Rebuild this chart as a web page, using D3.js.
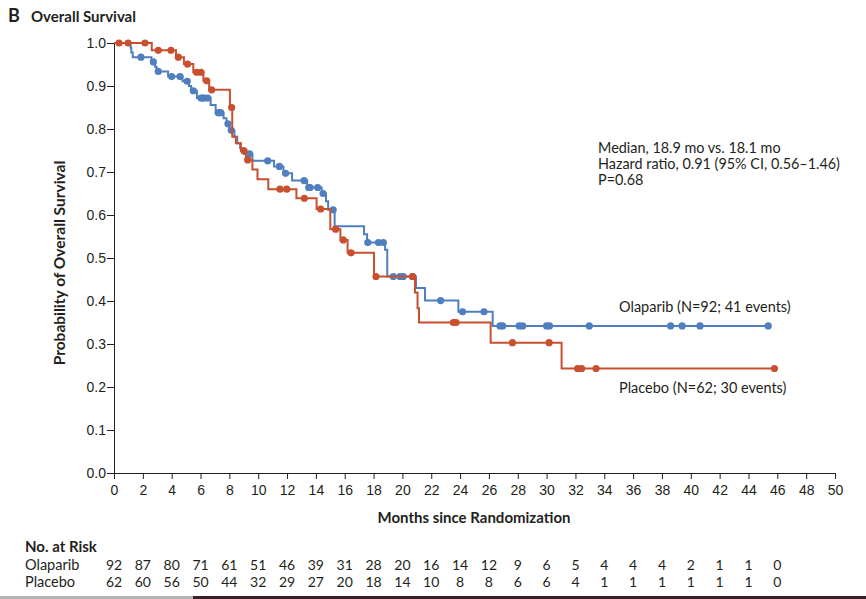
<!DOCTYPE html>
<html>
<head>
<meta charset="utf-8">
<script src="https://cdn.jsdelivr.net/npm/d3@7"></script>
<style>
  body { margin: 0; background: #fff; }
  svg { display: block; font-family: Lato, "Noto Sans", sans-serif; }
  .axis text { font-size: 14px; fill: #231f20; }
  .axis path, .axis line { stroke: #231f20; stroke-width: 1; }
</style>
</head>
<body>
<svg id="chart"></svg>
<script>
// Olaparib: event times (months) and survival after each drop
var olapTimes = [0, 1.15, 1.2, 1.3, 2.6, 2.85, 2.95, 3.75, 4.75, 5.2, 5.35, 5.75, 6.7, 7.05,
  7.6, 7.8, 8.0, 8.35, 8.55, 8.75, 9.0, 9.6, 11.1, 11.75, 12.35, 13.4, 14.4, 14.7, 14.85,
  15.3, 17.34, 17.55, 18.8, 18.95, 20.94, 21.57, 23.88, 26.26];
var olapSurv = [1.0, 0.989, 0.978, 0.967, 0.956, 0.945, 0.934, 0.922, 0.911, 0.9, 0.889, 0.872,
  0.856, 0.838, 0.825, 0.812, 0.797, 0.782, 0.767, 0.755, 0.742, 0.726, 0.713, 0.697, 0.68,
  0.664, 0.65, 0.632, 0.612, 0.574, 0.555, 0.536, 0.519, 0.457, 0.43, 0.401, 0.375, 0.342];
var olapCensor = [1.87, 2.73, 3.07, 4.0, 4.58, 5.08, 5.5, 6.03, 6.15, 6.26, 6.5, 7.23, 7.4, 7.9,
  8.13, 9.4, 10.66, 11.47, 11.9, 13.18, 13.5, 13.6, 14.12, 14.5, 15.2, 17.6, 18.34, 18.68,
  19.37, 19.83, 20.06, 20.7, 22.65, 24.17, 25.66, 26.77, 26.95, 28.1, 28.34, 30.0, 30.2,
  32.96, 38.6, 39.4, 40.64, 45.37];
var olapEnd = 45.37;

// Placebo
var placTimes = [0, 2.62, 4.3, 4.85, 5.5, 6.2, 6.6, 8.04, 8.2, 8.45, 8.8, 9.15, 9.6, 9.95,
  10.7, 12.65, 14.05, 15.0, 15.7, 16.2, 18.03, 20.87, 21.05, 21.15, 26.12, 31.04];
var placSurv = [1.0, 0.983, 0.967, 0.951, 0.932, 0.912, 0.891, 0.85, 0.782, 0.767, 0.749,
  0.728, 0.706, 0.683, 0.66, 0.639, 0.614, 0.567, 0.542, 0.512, 0.457, 0.42, 0.383, 0.35,
  0.303, 0.243];
var placCensor = [0.35, 0.98, 2.15, 3.07, 3.95, 4.46, 5.1, 5.73, 6.03, 6.43, 6.77, 8.16,
  9.02, 9.27, 11.51, 11.98, 13.2, 14.33, 15.37, 15.9, 16.44, 18.17, 20.71, 23.53, 23.72,
  27.63, 30.17, 32.15, 32.43, 33.43, 45.8];
var placEnd = 45.8;

// number at risk table
var riskTimes = [0, 2, 4, 6, 8, 10, 12, 14, 16, 18, 20, 22, 24, 26, 28, 30, 32, 34, 36, 38, 40, 42, 44, 46];
var olapRisk = [92, 87, 80, 71, 61, 51, 46, 39, 31, 28, 20, 16, 14, 12, 9, 6, 5, 4, 4, 4, 2, 1, 1, 0];
var placRisk = [62, 60, 56, 50, 44, 32, 29, 27, 20, 18, 14, 10, 8, 8, 6, 6, 4, 1, 1, 1, 1, 1, 1, 0];

var xTicks = d3.range(0, 51, 2);
var yTicks = d3.range(0, 1.01, 0.1);

var blue = "#4f7fbf", red = "#c9502f", ink = "#231f20";

var W = 866, H = 599;
var svg = d3.select("#chart").attr("width", W).attr("height", H);

var x = d3.scaleLinear().domain([0, 50]).range([114, 835]);
var y = d3.scaleLinear().domain([0, 1]).range([473, 43]);

// axes
svg.append("g")
  .attr("class", "axis")
  .attr("transform", "translate(0," + y(0) + ")")
  .call(d3.axisBottom(x).tickValues(xTicks).tickSize(6).tickSizeOuter(0).tickPadding(6)
    .tickFormat(d3.format("d")));

svg.append("g")
  .attr("class", "axis")
  .attr("transform", "translate(" + x(0) + ",0)")
  .call(d3.axisLeft(y).tickValues(yTicks).tickSize(7).tickSizeOuter(0).tickPadding(1)
    .tickFormat(d3.format(".1f")));

function survAt(times, surv, t) {
  var i = d3.bisectRight(times, t) - 1;
  return surv[Math.max(i, 0)];
}

function drawCurve(times, surv, censor, end, color) {
  var pts = times.map(function (t, i) { return [t, surv[i]]; });
  pts.push([end, surv[surv.length - 1]]);

  var line = d3.line()
    .x(function (d) { return x(d[0]); })
    .y(function (d) { return y(d[1]); })
    .curve(d3.curveStepAfter);

  svg.append("path")
    .datum(pts)
    .attr("fill", "none")
    .attr("stroke", color)
    .attr("stroke-width", 2)
    .attr("d", line);

  svg.append("g").selectAll("circle")
    .data(censor)
    .enter().append("circle")
    .attr("cx", function (d) { return x(d); })
    .attr("cy", function (d) { return y(survAt(times, surv, d)); })
    .attr("r", 3.6)
    .attr("fill", color);
}

drawCurve(olapTimes, olapSurv, olapCensor, olapEnd, blue);
drawCurve(placTimes, placSurv, placCensor, placEnd, red);

// titles
svg.append("text").attr("x", 8).attr("y", 22)
  .attr("font-size", 18).attr("font-weight", "bold").attr("fill", ink).text("B");
svg.append("text").attr("x", 31).attr("y", 22)
  .attr("font-size", 15).attr("font-weight", "bold").attr("fill", ink).text("Overall Survival");

svg.append("text")
  .attr("transform", "translate(65,263) rotate(-90)")
  .attr("text-anchor", "middle")
  .attr("font-size", 15.5).attr("font-weight", "bold").attr("fill", ink)
  .text("Probability of Overall Survival");

svg.append("text")
  .attr("x", 474).attr("y", 523)
  .attr("text-anchor", "middle")
  .attr("font-size", 15).attr("font-weight", "bold").attr("fill", ink)
  .text("Months since Randomization");

// stats annotation
var notes = ["Median, 18.9 mo vs. 18.1 mo", "Hazard ratio, 0.91 (95% CI, 0.56\u20131.46)", "P=0.68"];
svg.append("g").selectAll("text")
  .data(notes)
  .enter().append("text")
  .attr("x", 598)
  .attr("y", function (d, i) { return 153 + i * 16; })
  .attr("font-size", 14.4).attr("fill", ink)
  .text(function (d) { return d; });

// curve labels
svg.append("text").attr("x", 619).attr("y", 312)
  .attr("font-size", 14.5).attr("fill", ink).text("Olaparib (N=92; 41 events)");
svg.append("text").attr("x", 619).attr("y", 393)
  .attr("font-size", 14.5).attr("fill", ink).text("Placebo (N=62; 30 events)");

// number at risk
svg.append("text").attr("x", 25).attr("y", 552)
  .attr("font-size", 15).attr("font-weight", "bold").attr("fill", ink).text("No. at Risk");

var rows = [["Olaparib", olapRisk, 570], ["Placebo", placRisk, 587]];
rows.forEach(function (r) {
  svg.append("text").attr("x", 25).attr("y", r[2])
    .attr("font-size", 14.5).attr("fill", ink).text(r[0]);
  svg.append("g").selectAll("text")
    .data(r[1])
    .enter().append("text")
    .attr("x", function (d, i) { return x(riskTimes[i]); })
    .attr("y", r[2])
    .attr("text-anchor", "middle")
    .attr("font-size", 14).attr("fill", ink)
    .text(function (d) { return d; });
});

// bottom rule
svg.append("rect").attr("x", 0).attr("y", 596).attr("width", 193).attr("height", 3).attr("fill", "#b5b5b5");
svg.append("rect").attr("x", 193).attr("y", 596).attr("width", W - 193).attr("height", 3).attr("fill", "#3b1f2b");
</script>
</body>
</html>
